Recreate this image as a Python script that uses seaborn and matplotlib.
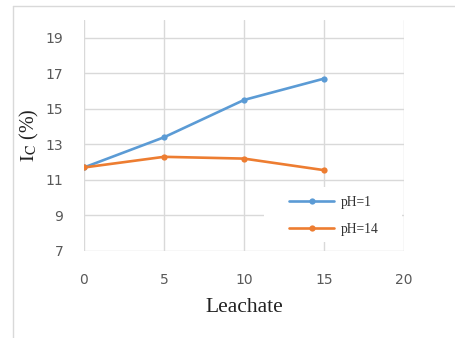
import pandas as pd
import seaborn as sns
import matplotlib.pyplot as plt
from matplotlib.lines import Line2D
from matplotlib.patches import Rectangle

# values
leachate = [0, 5, 10, 15]
ic_ph1 = [11.7, 13.4, 15.5, 16.7]
ic_ph14 = [11.7, 12.3, 12.2, 11.55]
series_names = ['pH=1', 'pH=14']
colors = ['#5B9BD5', '#ED7D31']
yticks = [7, 9, 11, 13, 15, 17, 19]
xticks = [0, 5, 10, 15, 20]

df = pd.DataFrame({
    'Leachate': leachate * 2,
    'Ic': ic_ph1 + ic_ph14,
    'series': [series_names[0]] * len(leachate) + [series_names[1]] * len(leachate),
})

sns.set_style('white')
plt.rcParams['mathtext.fontset'] = 'stix'

fig = plt.figure(figsize=(4.55, 3.38), dpi=100)
ax = fig.add_axes([84 / 455, 1 - 251 / 338, 320 / 455, 231 / 338])

sns.lineplot(data=df, x='Leachate', y='Ic', hue='series', palette=colors,
             marker='o', markersize=4.5, markeredgewidth=0, linewidth=1.9, ax=ax)

ax.set_xlim(0, 20)
ax.set_ylim(7, 20)
ax.set_xticks(xticks)
ax.set_yticks(yticks)
ax.grid(True, color='#d9d9d9', linewidth=1.0)
for s in ax.spines.values():
    s.set_visible(False)
ax.tick_params(length=0, colors='#595959', labelsize=10)
ax.tick_params(axis='x', pad=16)
ax.tick_params(axis='y', pad=15)

ax.set_xlabel('Leachate', fontfamily='Liberation Serif', fontsize=15.5, color='#222222', labelpad=8)
ax.set_ylabel(r'$\mathrm{I_C}$ (%)', fontfamily='Liberation Serif', fontsize=14.5, color='#222222', labelpad=3)

# white legend area that hides the gridlines
ax.add_patch(Rectangle((264 / 455, 1 - 242 / 338), 138 / 455, 55 / 338, transform=fig.transFigure,
                       facecolor='white', edgecolor='none', zorder=1.5))
leg = ax.legend(loc='center', bbox_to_anchor=(334 / 455, 1 - 216 / 338),
                bbox_transform=fig.transFigure, frameon=False,
                prop={'family': 'Liberation Serif', 'size': 9.8}, handlelength=3.3,
                handletextpad=0.5, labelspacing=1.0, borderpad=0, borderaxespad=0)
for t in leg.get_texts():
    t.set_color('#333333')

# light outer frame like the chart area border
fig.add_artist(Line2D([13 / 455, 13 / 455], [0, 1 - 6 / 338], color='#d9d9d9', linewidth=1, transform=fig.transFigure))
fig.add_artist(Line2D([13 / 455, 1], [1 - 6 / 338, 1 - 6 / 338], color='#d9d9d9', linewidth=1, transform=fig.transFigure))

fig.savefig('out.png', dpi=100)
